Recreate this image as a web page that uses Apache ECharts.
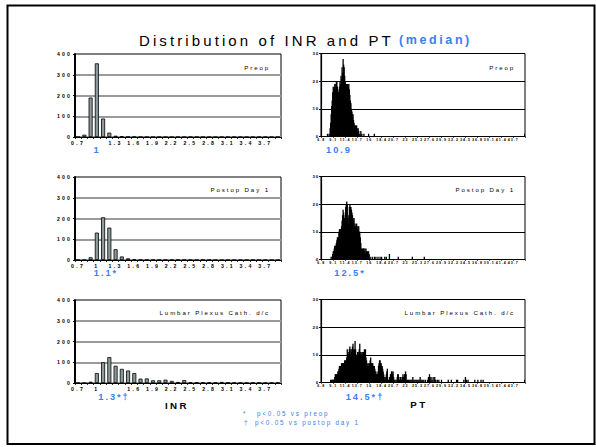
<!DOCTYPE html>
<html><head><meta charset="utf-8">
<script src="https://cdn.jsdelivr.net/npm/echarts@6/dist/echarts.min.js"></script>
<style>
html,body{margin:0;padding:0;background:#fff;}
#c{width:596px;height:447px;}
#c svg text{letter-spacing:0.3em;}
#c svg text[style*="15px"]{letter-spacing:3.1px;}
#c svg text[style*="12.5px"]{letter-spacing:2.6px;}
#c svg text[style*="9.2px"]{letter-spacing:2px;}
#c svg text[style*="9.7px"]{letter-spacing:2.5px;}
#c svg text[style*="6.1px"]{letter-spacing:1.9px;}
#c svg text[style*="6.3px"]{letter-spacing:1.8px;}
#c svg text[style*="5.1px"]{letter-spacing:2.2px;}
#c svg text[style*="5.2px"]{letter-spacing:2.3px;}
#c svg text[style*="4.4px"]{letter-spacing:0.8px;}
#c svg text[style*="3.6px"]{letter-spacing:1px;}
</style></head><body><div id="c"></div><script>
// ---- data ----
const inrCats = ['0.7','0.8','0.9','1','1.1','1.2','1.3','1.4','1.5','1.6','1.7','1.8','1.9','2','2.1','2.2','2.3','2.4','2.5','2.6','2.7','2.8','2.9','3','3.1','3.2','3.3','3.4','3.5','3.6','3.7','3.8','3.9'];
const inrPreop  = [0,11,190,355,89,21,6,4,1,1,0,0,0,0,0,0,0,0,0,0,0,0,0,0,0,0,0,0,0,0,0,0,0];
const inrPostop = [0,0,13,132,206,156,52,17,8,3,2,1,1,1,1,1,1,1,1,0,1,1,0,0,0,0,0,0,0,0,0,0,0];
const inrLumbar = [0,0,6,48,100,125,83,68,60,48,21,22,13,13,16,10,5,14,3,2,2,2,2,5,2,2,1,1,1,1,1,1,1];
const ptTicks = ['6.8','9.1','11.4','13.7','16','18.4','20.7','23','25.3','27.6','29.9','32.2','34.5','36.8','39.1','41.4','43.7'];
const ptFirst = 68, ptLast = 459; // PT bins in tenths of a second (6.8 .. 45.9)
// [PT seconds, count]
const ptPreop = [[8,1],[8.3,1],[8.5,3],[8.6,5],[8.7,8],[8.8,11],[8.9,13],[9,16],[9.1,18],[9.2,17],[9.3,18],[9.4,19],[9.5,17],[9.6,19],[9.7,20],[9.8,20],[9.9,18],[10,17],[10.1,16],[10.2,16],[10.3,18],[10.4,20],[10.5,19],[10.6,22],[10.7,21],[10.8,25],[10.9,23],[11,28],[11.1,26],[11.2,25],[11.3,22],[11.4,20],[11.5,19],[11.6,19],[11.7,18],[11.8,19],[11.9,19],[12,18],[12.1,19],[12.2,17],[12.3,15],[12.4,13],[12.5,12],[12.6,10],[12.7,9],[12.8,8],[12.9,8],[13,6],[13.1,5],[13.2,4],[13.3,4],[13.4,4],[13.5,3],[13.6,4],[13.7,3],[13.8,2],[13.9,3],[14,2],[14.2,1],[14.4,2],[14.6,1],[15,1],[15.9,1],[17,1],[45.9,1]];
const ptPostop = [[8.7,1],[8.9,1],[9,2],[9.1,3],[9.2,3],[9.3,4],[9.4,5],[9.5,5],[9.6,5],[9.7,6],[9.8,7],[9.9,8],[10,8],[10.1,8],[10.2,10],[10.3,11],[10.4,10],[10.5,11],[10.6,10],[10.7,12],[10.8,14],[10.9,16],[11,18],[11.1,17],[11.2,15],[11.3,15],[11.4,16],[11.5,19],[11.6,20],[11.7,21],[11.8,20],[11.9,15],[12,13],[12.1,16],[12.2,19],[12.3,20],[12.4,19],[12.5,19],[12.6,18],[12.7,17],[12.8,16],[12.9,15],[13,14],[13.1,15],[13.2,12],[13.3,13],[13.4,12],[13.5,12],[13.6,13],[13.7,12],[13.8,11],[13.9,12],[14,12],[14.1,10],[14.2,10],[14.3,8],[14.4,6],[14.5,4],[14.6,3],[14.7,4],[14.8,3],[14.9,4],[15,4],[15.1,3],[15.2,4],[15.3,2],[15.4,4],[15.5,3],[15.6,2],[15.7,3],[15.8,1],[15.9,3],[16,2],[16.2,1],[16.6,1],[17,1],[17.3,1],[17.7,1],[18.1,1],[18.4,1],[19,1],[19.3,1],[19.9,2],[21.6,1],[24.3,1],[26.6,1]];
const ptLumbar = [[8.6,1],[8.8,1],[9,1],[9.1,1],[9.2,1],[9.3,1],[9.4,2],[9.5,3],[9.6,3],[9.7,3],[9.8,3],[9.9,3],[10,4],[10.1,4],[10.2,5],[10.3,6],[10.4,6],[10.5,6],[10.6,6],[10.7,7],[10.8,6],[10.9,7],[11,7],[11.1,7],[11.2,7],[11.3,8],[11.4,7],[11.5,8],[11.6,8],[11.7,9],[11.8,12],[11.9,10],[12,10],[12.1,11],[12.2,12],[12.3,13],[12.4,10],[12.5,12],[12.6,11],[12.7,12],[12.8,13],[12.9,14],[13,12],[13.1,11],[13.2,12],[13.3,15],[13.4,12],[13.5,10],[13.6,9],[13.7,10],[13.8,11],[13.9,11],[14,10],[14.1,12],[14.2,14],[14.3,11],[14.4,10],[14.5,10],[14.6,11],[14.7,10],[14.8,11],[14.9,11],[15,11],[15.1,12],[15.2,11],[15.3,12],[15.4,9],[15.5,8],[15.6,7],[15.7,6],[15.8,7],[15.9,6],[16,7],[16.1,7],[16.2,8],[16.3,9],[16.4,7],[16.5,7],[16.6,7],[16.7,7],[16.8,6],[16.9,6],[17,6],[17.1,5],[17.2,4],[17.3,4],[17.4,3],[17.5,3],[17.6,3],[17.7,4],[17.8,6],[17.9,7],[18,8],[18.1,8],[18.2,7],[18.3,7],[18.4,6],[18.5,6],[18.6,5],[18.7,4],[18.8,3],[18.9,2],[19,1],[19.1,1],[19.2,2],[19.3,3],[19.4,4],[19.5,5],[19.6,1],[19.7,1],[19.9,2],[20,1],[20.1,3],[20.2,3],[20.3,4],[20.4,4],[20.5,3],[20.6,4],[20.7,2],[20.8,1],[21,1],[21.2,1],[21.4,2],[21.5,3],[21.6,3],[21.7,2],[21.8,1],[22,2],[22.1,2],[22.2,1],[22.4,2],[22.5,3],[22.6,2],[22.8,3],[22.9,3],[23,4],[23.1,3],[23.2,1],[23.4,1],[23.6,1],[23.8,1],[24,1],[24.2,1],[24.4,2],[24.6,1],[24.8,1],[25,1],[25.2,1],[25.4,1],[25.6,1],[25.8,2],[26,1],[26.2,1],[26.5,1],[26.8,1],[27.2,1],[27.4,2],[27.6,3],[27.7,2],[27.9,2],[28.1,1],[28.3,2],[28.6,2],[28.8,1],[29.1,1],[29.4,1],[29.9,1],[31.2,1],[31.8,1],[32.8,1],[33,1],[34.2,1],[34.5,2],[34.7,1],[35,1],[36.3,1],[36.9,1],[37.5,1],[37.9,1],[45.9,1]];
const panelNames = ['Preop','Postop Day 1','Lumbar Plexus Cath. d/c'];
const inrMedians = ['1','1.1*','1.3*\u2020'];
const ptMedians = ['10.9','12.5*','14.5*\u2020'];
const titleMain = 'Distribution of INR and PT';
const titleSub = '(median)';
const axisNames = ['INR','PT'];
const footMarks = ['*','\u2020'];
const footTexts = ['p<0.05 vs preop','p<0.05 vs postop day 1'];

// ---- build ----
const ptCats = [];
for (let n = ptFirst; n <= ptLast; n++) ptCats.push(String(n / 10));
const inrSeries = [inrPreop, inrPostop, inrLumbar];
const ptSeries = [ptPreop, ptPostop, ptLumbar].map(a => a.map(d => [String(d[0]), d[1]]));

const FONT = 'Liberation Sans';
const BLUE = '#3a80f0';
const inrTops = [54, 177, 300];
const ptTops = [53.5, 176.5, 299.5];
const hideInr = [3, -1, 6];

const grids = [], xAxes = [], yAxes = [], series = [];
for (let p = 0; p < 3; p++) {
  grids.push({left:75, top:inrTops[p], width:206, height:83, show:true, borderColor:'#000', borderWidth:1, backgroundColor:'#fff', containLabel:false, outerBoundsMode:'none'});
  grids.push({left:321, top:ptTops[p], width:204, height:83, show:true, borderColor:'#000', borderWidth:1, backgroundColor:'#fff', containLabel:false, outerBoundsMode:'none'});
}
for (let p = 0; p < 3; p++) {
  const gi = p * 2, gp = p * 2 + 1;
  const hidden = hideInr[p];
  xAxes.push({type:'category', gridIndex:gi, data:inrCats, boundaryGap:true,
    axisLine:{show:true, lineStyle:{color:'#000', width:1.2}},
    axisTick:{show:true, interval:0, length:2, lineStyle:{color:'#000', width:0.8}},
    axisLabel:{interval:(i) => i % 3 === 0 && i !== hidden, fontSize:5.2, fontWeight:'bold', fontFamily:FONT, color:'#000', margin:3},
    splitLine:{show:false}});
  yAxes.push({type:'value', gridIndex:gi, min:0, max:400, interval:100,
    axisLine:{show:true, lineStyle:{color:'#000', width:2}},
    axisTick:{show:true, length:2, lineStyle:{color:'#000', width:1}},
    axisLabel:{fontSize:5.1, fontWeight:'bold', fontFamily:FONT, color:'#000', margin:3},
    splitLine:{show:true, showMaxLine:false, lineStyle:{color:'#9a9a9a', width:2}}});
  xAxes.push({type:'category', gridIndex:gp, data:ptCats, boundaryGap:true,
    axisLine:{show:true, lineStyle:{color:'#000', width:1.2}},
    axisTick:{show:true, interval:(i, v) => ptTicks.indexOf(v) >= 0, length:1.5, lineStyle:{color:'#000', width:0.6}},
    axisLabel:{interval:(i, v) => ptTicks.indexOf(v) >= 0, fontSize:3.6, fontWeight:'bold', fontFamily:FONT, color:'#000', margin:1.5},
    splitLine:{show:false}});
  yAxes.push({type:'value', gridIndex:gp, min:0, max:30, interval:10,
    axisLine:{show:true, lineStyle:{color:'#000', width:1.2}},
    axisTick:{show:true, length:2, lineStyle:{color:'#000', width:1}},
    axisLabel:{fontSize:4.4, fontWeight:'bold', fontFamily:FONT, color:'#000', margin:2},
    splitLine:{show:true, showMaxLine:false, lineStyle:{color:'#000', width:1}}});
  series.push({type:'bar', xAxisIndex:gi, yAxisIndex:gi, data:inrSeries[p], barWidth:4,
    itemStyle:{color:'#8c9c9c', borderColor:'#000', borderWidth:0.8}, silent:true});
  series.push({type:'bar', xAxisIndex:gp, yAxisIndex:gp, data:ptSeries[p], barWidth:1.3,
    itemStyle:{color:'#000'}, silent:true});
}

function txt(text, x, y, size, o) {
  o = o || {};
  const al = o.align || 'left';
  return {type:'text', x:x, y:y, silent:true, z:100,
    style:{text:text, x:0, y:0, fontSize:size, fontFamily:FONT, fontWeight:o.bold ? 'bold' : 'normal',
      fill:o.color || '#000', align:al, textAlign:al, verticalAlign:'middle', textVerticalAlign:'middle'}};
}
const graphic = [
  {type:'rect', silent:true, shape:{x:7.5, y:5.5, width:587, height:438.5}, style:{fill:'none', stroke:'#000', lineWidth:2}},
  txt(titleMain, 139, 40, 15),
  txt(titleSub, 399, 40, 12.5, {bold:true, color:BLUE})
];
const panelY = [67, 189, 312];
const inrMedPos = [[97,150],[106,273],[114,397]];
const ptMedPos = [[339,150],[350,273],[365,397]];
for (let p = 0; p < 3; p++) {
  graphic.push(txt(panelNames[p], 270, panelY[p], 6.1, {align:'right'}));
  graphic.push(txt(panelNames[p], 515, panelY[p], 6.1, {align:'right'}));
  graphic.push(txt(inrMedians[p], inrMedPos[p][0], inrMedPos[p][1], 9.2, {bold:true, color:BLUE, align:'center'}));
  graphic.push(txt(ptMedians[p], ptMedPos[p][0], ptMedPos[p][1], 9.2, {bold:true, color:BLUE, align:'center'}));
}
graphic.push(txt(axisNames[0], 177, 405, 9.7, {bold:true, align:'center'}));
graphic.push(txt(axisNames[1], 419, 404, 9.7, {bold:true, align:'center'}));
graphic.push(txt(footMarks[0], 243, 413, 6.3, {color:BLUE}));
graphic.push(txt(footTexts[0], 257, 413, 6.3, {color:BLUE}));
graphic.push(txt(footMarks[1], 244, 422, 6.3, {color:BLUE}));
graphic.push(txt(footTexts[1], 255, 422, 6.3, {color:BLUE}));

const chart = echarts.init(document.getElementById('c'), null, {renderer:'svg'});
chart.setOption({
  animation:false,
  backgroundColor:'#fff',
  grid:grids, xAxis:xAxes, yAxis:yAxes, series:series, graphic:graphic
});
</script></body></html>
